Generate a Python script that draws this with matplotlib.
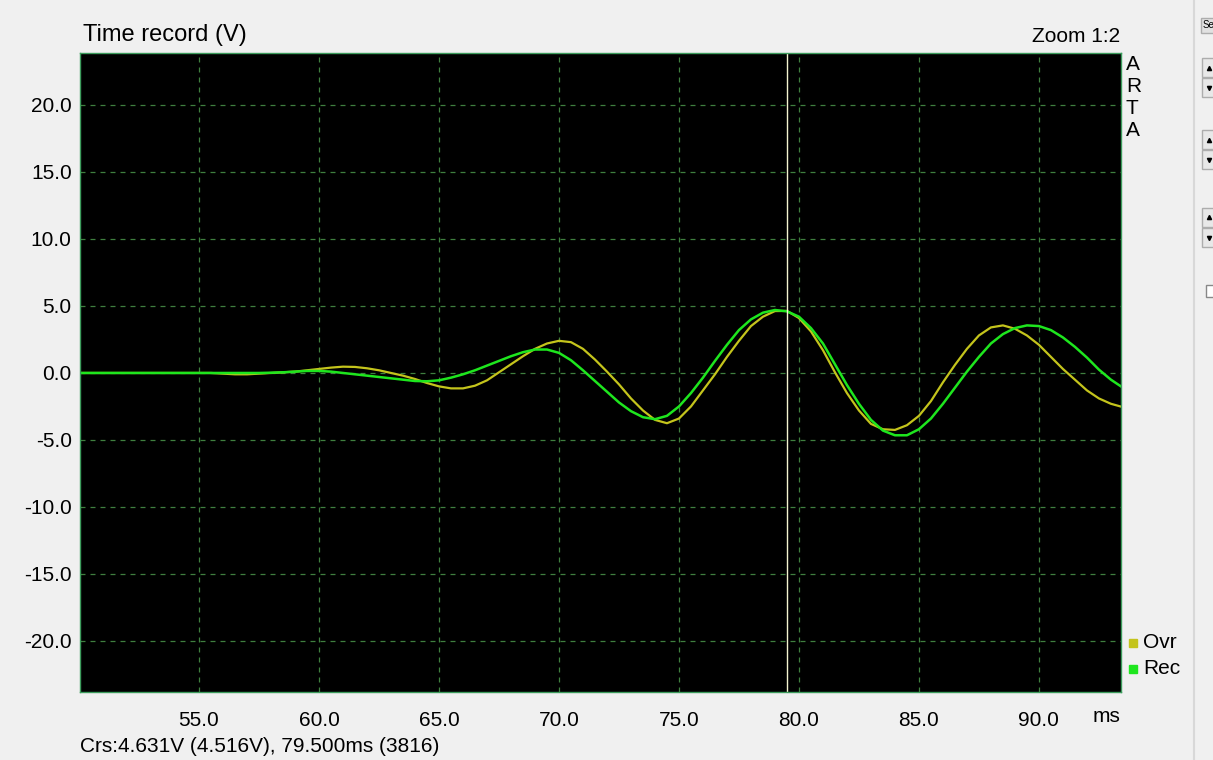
import numpy as np
import matplotlib
matplotlib.use('Agg')
import matplotlib.pyplot as plt
from matplotlib.patches import Rectangle

plt.rcParams['font.family'] = ['Liberation Sans', 'DejaVu Sans']

# time axis in ms, 0.5 ms steps
t = np.arange(50.0, 94.0, 0.5)

ovr = [0, 0, 0, 0, 0, 0, 0, 0, 0, 0, 0, 0,
       -0.05, -0.1, -0.1, -0.05, 0.0, 0.05, 0.1, 0.2, 0.3, 0.4,
       0.47, 0.45, 0.35, 0.2, 0.0, -0.2, -0.45, -0.75, -1.0, -1.15,
       -1.15, -0.95, -0.55, 0.05, 0.65, 1.25, 1.8, 2.2, 2.4, 2.3,
       1.8, 1.0, 0.1, -0.85, -1.9, -2.8, -3.5, -3.75, -3.4, -2.5,
       -1.3, -0.1, 1.2, 2.4, 3.5, 4.2, 4.62, 4.63, 4.1, 3.1,
       1.7, 0.05, -1.5, -2.8, -3.8, -4.2, -4.25, -3.9, -3.2, -2.1,
       -0.7, 0.6, 1.8, 2.8, 3.4, 3.55, 3.3, 2.8, 2.1, 1.2,
       0.3, -0.5, -1.3, -1.9, -2.3, -2.55]

rec = [0, 0, 0, 0, 0, 0, 0, 0, 0, 0, 0, 0, 0, 0, 0, 0,
       0.02, 0.05, 0.1, 0.15, 0.15, 0.1,
       0.0, -0.1, -0.2, -0.3, -0.4, -0.5, -0.6, -0.62, -0.55, -0.35,
       -0.1, 0.2, 0.55, 0.9, 1.25, 1.55, 1.75, 1.75, 1.5, 0.95,
       0.2, -0.6, -1.4, -2.2, -2.85, -3.3, -3.45, -3.2, -2.5, -1.5,
       -0.35, 0.9, 2.1, 3.2, 4.0, 4.5, 4.7, 4.6, 4.2, 3.35,
       2.2, 0.65, -0.9, -2.3, -3.5, -4.3, -4.65, -4.65, -4.2, -3.4,
       -2.3, -1.1, 0.1, 1.2, 2.2, 2.9, 3.35, 3.55, 3.5, 3.2,
       2.65, 1.95, 1.15, 0.25, -0.5, -1.1]

cursor_ms = 79.5
xticks = [55, 60, 65, 70, 75, 80, 85, 90]
yticks = [-20, -15, -10, -5, 0, 5, 10, 15, 20]

c_ovr = '#c4c41c'
c_rec = '#1ee61e'

fig = plt.figure(figsize=(12.13, 7.60), dpi=100, facecolor='#f0f0f0')
ax = fig.add_axes([80/1213, 1-692/760, (1121-80)/1213, (692-53)/760])
ax.set_facecolor('black')

ax.plot(t, ovr, color=c_ovr, lw=1.6)
ax.plot(t, rec, color=c_rec, lw=1.8)
ax.axvline(cursor_ms, color='#f4f4d0', lw=1)

ax.set_xlim(50.04, 93.42)
ax.set_ylim(-23.81, 23.88)
ax.set_xticks(xticks)
ax.set_xticklabels(['%.1f' % v for v in xticks])
ax.set_yticks(yticks)
ax.set_yticklabels(['%.1f' % v for v in yticks])
ax.tick_params(length=0, labelsize=15, colors='black')
ax.tick_params(axis='x', pad=14)
ax.tick_params(axis='y', pad=6)
ax.grid(True, color='#3f7f3f', ls=(0, (4, 4)), lw=0.9)
ax.set_axisbelow(True)
for s in ax.spines.values():
    s.set_color('#3c9c5c')
    s.set_linewidth(1)

fig.text(83/1213, 1-35/760, 'Time record (V)', fontsize=17, va='center', ha='left')
fig.text(1120/1213, 1-37/760, 'Zoom 1:2', fontsize=15, va='center', ha='right')
fig.text(80/1213, 1-747/760, 'Crs:4.631V (4.516V), 79.500ms (3816)', fontsize=15,
         va='center', ha='left')
fig.text(1120/1213, 1-717/760, 'ms', fontsize=15, va='center', ha='right')
for i, ch in enumerate('ARTA'):
    fig.text(1126/1213, 1-(64+22.3*i)/760, ch, fontsize=15, va='center', ha='left')

# legend
for lab, col, yy in [('Ovr', c_ovr, 643), ('Rec', c_rec, 669)]:
    fig.patches.append(Rectangle((1129/1213, 1-(yy+4)/760), 8/1213, 8/760,
                                 transform=fig.transFigure, color=col))
    fig.text(1143/1213, 1-yy/760, lab, fontsize=15, va='center', ha='left')

# right side panel
fig.add_artist(plt.Line2D([1194/1213, 1194/1213], [0, 1], transform=fig.transFigure,
                          color='#d8d8d8', lw=1.5))
fig.patches.append(Rectangle((1201/1213, 1-33/760), 14/1213, 15/760,
                             transform=fig.transFigure, facecolor='#e1e1e1',
                             edgecolor='#adadad', lw=1))
fig.text(1203/1213, 1-25/760, 'Se', fontsize=7, va='center', ha='left')
for y0 in [58, 130, 208]:
    for k, mk in enumerate(['^', 'v']):
        top = y0 + 20*k
        fig.patches.append(Rectangle((1202/1213, 1-(top+19)/760), 14/1213, 19/760,
                                     transform=fig.transFigure, facecolor='#e8e8e8',
                                     edgecolor='#adadad', lw=1))
        fig.add_artist(plt.Line2D([1209/1213], [1-(top+9.5)/760], transform=fig.transFigure,
                                  marker=mk, ms=3, color='black', ls='none'))
fig.patches.append(Rectangle((1206/1213, 1-297/760), 10/1213, 12/760,
                             transform=fig.transFigure, facecolor='white',
                             edgecolor='#888888', lw=1))

fig.savefig('out.png', dpi=100, facecolor=fig.get_facecolor())
